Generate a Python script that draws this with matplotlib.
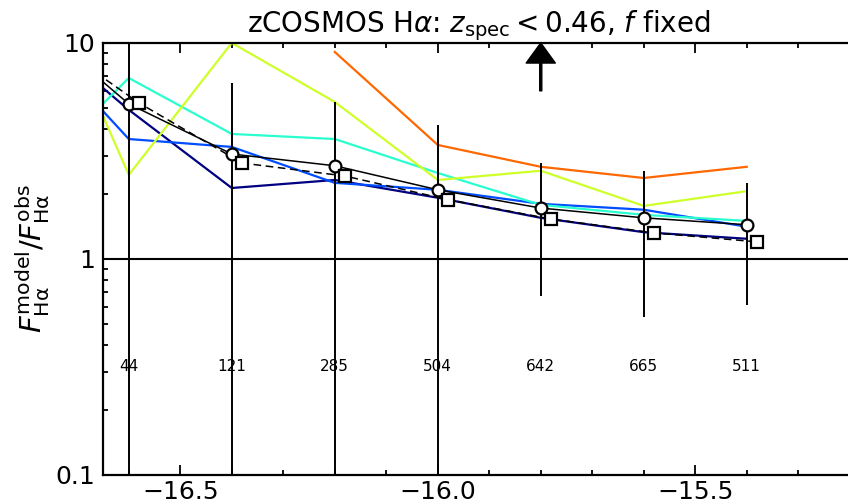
import numpy as np
import matplotlib
matplotlib.use("Agg")
import matplotlib.pyplot as plt
from matplotlib.ticker import FixedLocator, FuncFormatter, MultipleLocator, LogLocator, NullFormatter

# bin centres in log flux (first bin sits just off the left edge)
logf = np.array([-16.8, -16.6, -16.4, -16.2, -16.0, -15.8, -15.6, -15.4])
n_obj = [44, 121, 285, 504, 642, 665, 511]

# stacked ratio: circles (solid) and squares (dashed)
ratio_circ = np.array([13.3, 5.22, 3.06, 2.70, 2.09, 1.72, 1.55, 1.44])
ratio_sq = np.array([11.4, 5.27, 2.78, 2.42, 1.88, 1.53, 1.32, 1.20])
err_hi = np.array([np.nan, 12.0, 6.53, 5.33, 4.17, 2.78, 2.55, 2.25])
err_lo = np.array([np.nan, 0.05, 0.05, 0.05, 0.05, 0.674, 0.539, 0.612])

# individual redshift slices
zbin1 = np.array([12.4, 4.90, 2.13, 2.32, 1.92, 1.55, 1.33, 1.24])
zbin2 = np.array([11.8, 3.59, 3.30, 2.25, 2.09, 1.80, 1.69, 1.41])
zbin3 = np.array([2.30, 6.88, 3.79, 3.59, 2.50, 1.78, 1.60, 1.50])
zbin4 = np.array([30.0, 2.45, 10.0, 5.33, 2.32, 2.56, 1.76, 2.06])
zbin5 = np.array([np.nan, np.nan, np.nan, 9.08, 3.37, 2.67, 2.37, 2.67])
zbins = [zbin1, zbin2, zbin3, zbin4, zbin5]

arrow_x = -15.8
sq_shift = 0.02

fig = plt.figure(figsize=(8.48, 5.03), dpi=100)
ax = fig.add_axes([0.1215, 0.0557, 0.886, 0.859])

cols = plt.cm.jet(np.linspace(0, 0.8, len(zbins)))
for zb, c in zip(zbins, cols):
    ax.plot(logf, zb, color=c, lw=1.6, zorder=2)

ax.axhline(1, color="k", lw=1.5, zorder=3)
ax.vlines(logf, err_lo, err_hi, color="k", lw=1.4, zorder=3)

ax.plot(logf, ratio_circ, "k-", lw=1.1, zorder=4)
ax.plot(logf + sq_shift, ratio_sq, "k--", lw=1.1, dashes=(5, 3), zorder=4)
ax.plot(logf, ratio_circ, "o", ms=8.5, mfc="w", mec="k", mew=1.6, zorder=5)
ax.plot(logf + sq_shift, ratio_sq, "s", ms=8, mfc="w", mec="k", mew=1.6, zorder=5)

for xx, n in zip(logf[1:], n_obj):
    ax.text(xx, 10 ** -0.5, str(n), fontsize=11, ha="center", va="center")

ax.annotate("", xy=(arrow_x, 10), xytext=(arrow_x, 6.0),
            arrowprops=dict(facecolor="k", edgecolor="k", width=1.5,
                            headwidth=21, headlength=14.5),
            annotation_clip=False, zorder=6)

ax.set_yscale("log")
ax.set_xlim(-16.65, -15.191)
ax.set_ylim(0.1, 10)

ax.xaxis.set_major_locator(MultipleLocator(0.5))
ax.xaxis.set_minor_locator(MultipleLocator(0.1))
ax.xaxis.set_major_formatter(FuncFormatter(lambda v, p: f"{v:.1f}".replace("-", "\u2212")))
ax.yaxis.set_major_locator(FixedLocator([0.1, 1, 10]))
ax.yaxis.set_major_formatter(FuncFormatter(lambda v, p: f"{v:g}"))
ax.yaxis.set_minor_locator(LogLocator(base=10, subs=np.arange(2, 10)))
ax.yaxis.set_minor_formatter(NullFormatter())

ax.tick_params(which="both", direction="in", top=True, right=True, width=1.3,
               labelsize=18)
ax.tick_params(which="major", length=7)
ax.tick_params(which="minor", length=3.6)
ax.tick_params(axis="y", pad=6)
for sp in ax.spines.values():
    sp.set_linewidth(1.6)

ax.set_ylabel(r"$F^{\rm model}_{\rm H\alpha}/F^{\rm obs}_{\rm H\alpha}$", fontsize=21, labelpad=2)
ax.set_title(r"zCOSMOS H$\alpha$: $z_{\rm spec} < 0.46$, $f$ fixed", fontsize=20, pad=7)

fig.savefig("out.png", dpi=100)
